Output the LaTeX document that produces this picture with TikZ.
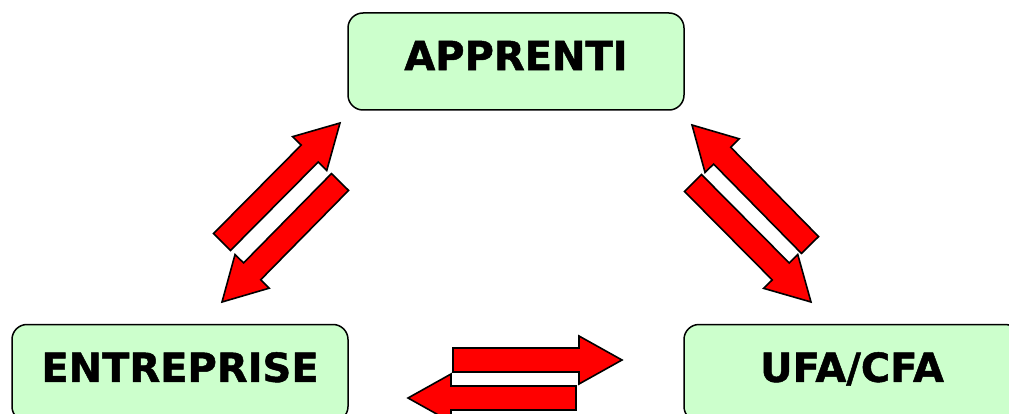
\documentclass[tikz,border=0pt]{standalone}
\usepackage{fontspec}
\setmainfont{DejaVu Sans}
\newfontfamily\boxfont[FakeBold=1.2]{DejaVu Sans Bold}
\usetikzlibrary{calc}
\definecolor{boxgreen}{HTML}{CCFFCC}
\definecolor{arrred}{HTML}{FF0000}
\tikzset{
  box/.style={draw=black, line width=1.5pt, fill=boxgreen, rounded corners=15pt,
    minimum width=336pt, minimum height=97pt, inner sep=0pt, text depth=12pt,
    font=\boxfont\fontsize{40}{48}\selectfont},
  arrowshape/.style={draw=black, fill=arrred, line width=1.6pt, line join=miter}
}
\newcommand\fatarrow[2]{%
  \coordinate (h) at ($(#2)!43pt!(#1)$);
  \filldraw[arrowshape] ($(#1)!12pt!90:(#2)$) -- ($(h)!12pt!-90:(#1)$) -- ($(h)!24pt!-90:(#1)$) -- (#2)
    -- ($(h)!24pt!90:(#1)$) -- ($(h)!12pt!90:(#1)$) -- ($(#1)!12pt!-90:(#2)$) -- cycle;
}
\begin{document}
\begin{tikzpicture}[x=1pt,y=-1pt]
\useasboundingbox[fill=white] (0,0) rectangle (1009,414);
\node[box] (app) at (516,61.5) {APPRENTI};
\node[box] (ent) at (180,373) {ENTREPRISE};
\node[box] (ufa) at (852,373) {UFA/CFA};
% arrow end points
\coordinate (la1) at (222,242); \coordinate (lb1) at (340,123);
\coordinate (la2) at (340,182); \coordinate (lb2) at (222,302);
\coordinate (ra1) at (810,245); \coordinate (rb1) at (692,125);
\coordinate (ra2) at (693,183); \coordinate (rb2) at (811,302);
\coordinate (ba1) at (453,360); \coordinate (bb1) at (622,360);
\coordinate (ba2) at (576,398); \coordinate (bb2) at (408,398);
\fatarrow{la1}{lb1}
\fatarrow{la2}{lb2}
\fatarrow{ra1}{rb1}
\fatarrow{ra2}{rb2}
\fatarrow{ba1}{bb1}
\fatarrow{ba2}{bb2}
\end{tikzpicture}
\end{document}
